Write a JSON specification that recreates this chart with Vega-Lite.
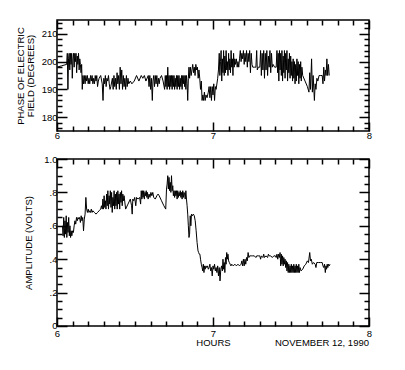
{
  "$schema": "https://vega.github.io/schema/vega-lite/v6.json",
  "background": "white",
  "padding": {"left": 14, "top": 17, "right": 5, "bottom": 5},
  "config": {
    "view": {"stroke": "black", "strokeWidth": 1.5},
    "font": "Liberation Sans",
    "axis": {"domain": false, "grid": false, "labelFont": "Liberation Sans", "labelFontSize": 9.5, "labelColor": "black", "titleFont": "Liberation Sans", "titleFontSize": 9.5, "titleFontWeight": "normal", "titleColor": "black", "tickColor": "black", "tickWidth": 1.5, "labelOverlap": false, "labelFlush": false},
    "concat": {"spacing": 8},
    "line": {"color": "black", "strokeWidth": 1},
    "title": {"font": "Liberation Sans", "fontSize": 9.5, "fontWeight": "normal", "color": "black"}
  },
  "datasets": {
    "phase": [
      {"h":6.000,"v":198},{"h":6.030,"v":198.5},{"h":6.062,"v":199},
      {"h":6.066,"v":203},{"h":6.070,"v":190},{"h":6.074,"v":201},{"h":6.078,"v":203},{"h":6.082,"v":197},{"h":6.086,"v":203},{"h":6.090,"v":199},{"h":6.094,"v":203},{"h":6.098,"v":194},{"h":6.102,"v":201},{"h":6.106,"v":203},{"h":6.110,"v":198},{"h":6.114,"v":203},{"h":6.118,"v":200},{"h":6.122,"v":203},{"h":6.126,"v":196},{"h":6.130,"v":202},{"h":6.134,"v":199},{"h":6.138,"v":203},{"h":6.142,"v":197},{"h":6.146,"v":201},{"h":6.150,"v":199},{"h":6.154,"v":196},{"h":6.158,"v":199},{"h":6.162,"v":190},{"h":6.166,"v":195},
      {"h":6.170,"v":192},{"h":6.175,"v":195},{"h":6.180,"v":192},{"h":6.185,"v":195},{"h":6.190,"v":193},{"h":6.195,"v":195},{"h":6.200,"v":192},{"h":6.205,"v":194},{"h":6.210,"v":192},{"h":6.215,"v":195},{"h":6.220,"v":193},{"h":6.225,"v":195},{"h":6.230,"v":192},{"h":6.235,"v":194},{"h":6.240,"v":192},{"h":6.245,"v":195},{"h":6.250,"v":193},{"h":6.255,"v":195},{"h":6.260,"v":191},{"h":6.265,"v":193},{"h":6.270,"v":194},
      {"h":6.280,"v":195},{"h":6.290,"v":192},{"h":6.295,"v":186},{"h":6.300,"v":194},{"h":6.305,"v":192},{"h":6.310,"v":195},{"h":6.315,"v":191},{"h":6.320,"v":194},{"h":6.325,"v":193},{"h":6.330,"v":195},{"h":6.335,"v":192},{"h":6.340,"v":190},{"h":6.345,"v":191},
      {"h":6.355,"v":194},{"h":6.360,"v":190},{"h":6.365,"v":195},{"h":6.370,"v":191},{"h":6.375,"v":194},{"h":6.380,"v":190},{"h":6.385,"v":196},{"h":6.390,"v":192},{"h":6.395,"v":195},{"h":6.400,"v":190},{"h":6.405,"v":198},{"h":6.410,"v":192},{"h":6.415,"v":197},{"h":6.420,"v":190},{"h":6.425,"v":195},{"h":6.430,"v":191},{"h":6.435,"v":194},{"h":6.440,"v":190},{"h":6.445,"v":195},{"h":6.450,"v":191},{"h":6.455,"v":194},{"h":6.460,"v":192},{"h":6.470,"v":193},{"h":6.480,"v":192},
      {"h":6.495,"v":193},{"h":6.510,"v":195},{"h":6.525,"v":193},{"h":6.540,"v":195},{"h":6.550,"v":194},{"h":6.560,"v":195},{"h":6.570,"v":193},
      {"h":6.585,"v":195},{"h":6.590,"v":191},{"h":6.595,"v":195},{"h":6.600,"v":190},{"h":6.605,"v":194},{"h":6.611,"v":186},{"h":6.615,"v":193},{"h":6.620,"v":195},{"h":6.625,"v":191},{"h":6.630,"v":195},{"h":6.635,"v":192},{"h":6.640,"v":195},{"h":6.645,"v":191},{"h":6.650,"v":194},{"h":6.655,"v":192},{"h":6.660,"v":194},{"h":6.670,"v":195},{"h":6.680,"v":193},
      {"h":6.690,"v":190},{"h":6.694,"v":195},{"h":6.698,"v":191},{"h":6.702,"v":195},{"h":6.706,"v":190},{"h":6.710,"v":198},{"h":6.714,"v":191},{"h":6.718,"v":195},{"h":6.722,"v":190},{"h":6.726,"v":195},{"h":6.730,"v":191},{"h":6.734,"v":195},{"h":6.738,"v":190},{"h":6.742,"v":195},{"h":6.746,"v":191},{"h":6.750,"v":195},{"h":6.754,"v":190},{"h":6.758,"v":194},{"h":6.762,"v":191},{"h":6.766,"v":195},{"h":6.770,"v":190},{"h":6.774,"v":195},{"h":6.778,"v":191},{"h":6.782,"v":195},{"h":6.786,"v":190},{"h":6.790,"v":194},{"h":6.794,"v":191},{"h":6.798,"v":195},{"h":6.802,"v":190},{"h":6.806,"v":195},{"h":6.810,"v":192},{"h":6.814,"v":195},{"h":6.818,"v":191},{"h":6.822,"v":195},{"h":6.826,"v":190},{"h":6.830,"v":195},{"h":6.834,"v":192},{"h":6.838,"v":186},{"h":6.842,"v":194},
      {"h":6.846,"v":198},{"h":6.850,"v":194},{"h":6.855,"v":198},{"h":6.860,"v":195},{"h":6.865,"v":197},{"h":6.870,"v":199},{"h":6.875,"v":196},{"h":6.880,"v":198},{"h":6.885,"v":195},{"h":6.890,"v":199},{"h":6.895,"v":197},{"h":6.900,"v":198},{"h":6.905,"v":194},{"h":6.910,"v":197},
      {"h":6.915,"v":194},{"h":6.920,"v":190},{"h":6.925,"v":193},{"h":6.930,"v":186},{"h":6.935,"v":188},{"h":6.940,"v":186},{"h":6.945,"v":189},{"h":6.950,"v":186},{"h":6.955,"v":188},{"h":6.962,"v":187},{"h":6.970,"v":189},{"h":6.975,"v":191},{"h":6.980,"v":187},{"h":6.985,"v":191},{"h":6.990,"v":186},{"h":6.995,"v":191},{"h":7.000,"v":188},{"h":7.005,"v":192},{"h":7.010,"v":186},{"h":7.015,"v":191},{"h":7.020,"v":190},{"h":7.030,"v":194},
      {"h":7.035,"v":197},{"h":7.040,"v":203},{"h":7.044,"v":195},{"h":7.048,"v":200},{"h":7.052,"v":204},{"h":7.056,"v":193},{"h":7.060,"v":201},{"h":7.064,"v":196},{"h":7.068,"v":204},{"h":7.072,"v":195},{"h":7.076,"v":202},{"h":7.080,"v":196},{"h":7.084,"v":204},{"h":7.088,"v":197},{"h":7.092,"v":200},{"h":7.096,"v":195},{"h":7.100,"v":203},{"h":7.104,"v":197},{"h":7.108,"v":201},{"h":7.112,"v":196},{"h":7.116,"v":204},{"h":7.120,"v":198},{"h":7.124,"v":201},{"h":7.128,"v":195},{"h":7.132,"v":203},{"h":7.136,"v":198},{"h":7.140,"v":201},{"h":7.144,"v":199},{"h":7.150,"v":201},{"h":7.155,"v":198},{"h":7.160,"v":200},{"h":7.165,"v":198},
      {"h":7.170,"v":201},{"h":7.175,"v":204},{"h":7.180,"v":200},{"h":7.185,"v":203},{"h":7.190,"v":201},{"h":7.195,"v":204},{"h":7.200,"v":199},{"h":7.205,"v":203},{"h":7.210,"v":200},{"h":7.215,"v":204},{"h":7.220,"v":198},{"h":7.225,"v":203},{"h":7.230,"v":200},{"h":7.235,"v":204},{"h":7.240,"v":196},{"h":7.245,"v":203},{"h":7.250,"v":199},
      {"h":7.255,"v":198},{"h":7.265,"v":198},{"h":7.275,"v":198},{"h":7.280,"v":204},{"h":7.284,"v":197},{"h":7.290,"v":198},{"h":7.300,"v":198},{"h":7.305,"v":204},{"h":7.310,"v":195},{"h":7.315,"v":203},{"h":7.320,"v":197},{"h":7.325,"v":204},{"h":7.330,"v":194},{"h":7.335,"v":203},{"h":7.340,"v":197},{"h":7.345,"v":204},{"h":7.350,"v":195},{"h":7.355,"v":202},{"h":7.360,"v":198},{"h":7.365,"v":204},{"h":7.370,"v":196},{"h":7.375,"v":203},{"h":7.380,"v":198},{"h":7.385,"v":199},
      {"h":7.395,"v":198},{"h":7.405,"v":198},{"h":7.410,"v":204},{"h":7.414,"v":196},{"h":7.418,"v":203},{"h":7.422,"v":193},{"h":7.426,"v":204},{"h":7.430,"v":197},{"h":7.434,"v":203},{"h":7.438,"v":195},{"h":7.442,"v":204},{"h":7.446,"v":193},{"h":7.450,"v":202},{"h":7.454,"v":196},{"h":7.458,"v":204},{"h":7.462,"v":194},{"h":7.466,"v":203},{"h":7.470,"v":197},{"h":7.474,"v":204},{"h":7.478,"v":193},{"h":7.482,"v":201},{"h":7.486,"v":196},{"h":7.490,"v":203},{"h":7.494,"v":194},{"h":7.498,"v":202},{"h":7.502,"v":195},
      {"h":7.506,"v":200},{"h":7.510,"v":193},{"h":7.514,"v":201},{"h":7.518,"v":194},{"h":7.522,"v":200},{"h":7.526,"v":192},{"h":7.530,"v":199},{"h":7.534,"v":193},{"h":7.538,"v":201},{"h":7.542,"v":195},{"h":7.546,"v":200},{"h":7.550,"v":192},{"h":7.554,"v":199},{"h":7.558,"v":194},{"h":7.562,"v":200},{"h":7.566,"v":193},{"h":7.570,"v":198},{"h":7.575,"v":195},{"h":7.590,"v":193},{"h":7.605,"v":191},{"h":7.615,"v":189},{"h":7.620,"v":196},{"h":7.625,"v":190},{"h":7.632,"v":201},{"h":7.637,"v":189},{"h":7.642,"v":195},{"h":7.650,"v":186},{"h":7.655,"v":192},{"h":7.660,"v":190},{"h":7.666,"v":194},{"h":7.672,"v":193},{"h":7.680,"v":195},{"h":7.690,"v":195},{"h":7.700,"v":195},{"h":7.705,"v":192},{"h":7.710,"v":198},{"h":7.715,"v":193},{"h":7.720,"v":197},{"h":7.725,"v":195},{"h":7.730,"v":201},{"h":7.735,"v":195},{"h":7.740,"v":199},{"h":7.745,"v":195}
    ],
    "amp": [
      {"h":6.035,"v":0.60},{"h":6.039,"v":0.54},{"h":6.043,"v":0.65},{"h":6.047,"v":0.53},{"h":6.051,"v":0.63},{"h":6.055,"v":0.55},{"h":6.059,"v":0.66},{"h":6.063,"v":0.53},{"h":6.067,"v":0.62},{"h":6.071,"v":0.56},{"h":6.075,"v":0.65},{"h":6.079,"v":0.54},{"h":6.083,"v":0.60},{"h":6.087,"v":0.53},{"h":6.091,"v":0.57},{"h":6.095,"v":0.54},{"h":6.100,"v":0.57},{"h":6.105,"v":0.56},{"h":6.110,"v":0.60},{"h":6.115,"v":0.63},{"h":6.120,"v":0.61},{"h":6.125,"v":0.65},{"h":6.130,"v":0.63},{"h":6.135,"v":0.65},{"h":6.140,"v":0.64},{"h":6.145,"v":0.65},{"h":6.150,"v":0.62},{"h":6.155,"v":0.66},{"h":6.160,"v":0.63},{"h":6.165,"v":0.65},{"h":6.170,"v":0.57},{"h":6.175,"v":0.64},{"h":6.180,"v":0.67},{"h":6.185,"v":0.77},{"h":6.190,"v":0.70},{"h":6.195,"v":0.68},{"h":6.200,"v":0.70},{"h":6.205,"v":0.68},{"h":6.210,"v":0.69},{"h":6.215,"v":0.68},{"h":6.220,"v":0.70},{"h":6.225,"v":0.68},{"h":6.230,"v":0.69},{"h":6.240,"v":0.68},{"h":6.250,"v":0.67},{"h":6.260,"v":0.68},{"h":6.270,"v":0.69},{"h":6.280,"v":0.70},{"h":6.285,"v":0.72},{"h":6.290,"v":0.70},{"h":6.294,"v":0.76},{"h":6.298,"v":0.70},{"h":6.302,"v":0.78},{"h":6.306,"v":0.71},{"h":6.310,"v":0.75},{"h":6.314,"v":0.70},{"h":6.318,"v":0.79},{"h":6.322,"v":0.72},{"h":6.326,"v":0.81},{"h":6.330,"v":0.70},{"h":6.334,"v":0.78},{"h":6.338,"v":0.73},{"h":6.342,"v":0.81},{"h":6.346,"v":0.71},{"h":6.350,"v":0.80},{"h":6.354,"v":0.68},{"h":6.358,"v":0.77},{"h":6.362,"v":0.72},{"h":6.366,"v":0.81},{"h":6.370,"v":0.70},{"h":6.374,"v":0.79},{"h":6.378,"v":0.72},{"h":6.382,"v":0.80},{"h":6.386,"v":0.70},{"h":6.390,"v":0.81},{"h":6.394,"v":0.73},{"h":6.398,"v":0.79},{"h":6.402,"v":0.70},{"h":6.406,"v":0.80},{"h":6.410,"v":0.74},{"h":6.414,"v":0.81},{"h":6.418,"v":0.72},{"h":6.422,"v":0.79},{"h":6.426,"v":0.75},{"h":6.430,"v":0.78},{"h":6.440,"v":0.70},{"h":6.455,"v":0.73},{"h":6.470,"v":0.76},
      {"h":6.478,"v":0.72},{"h":6.482,"v":0.67},{"h":6.486,"v":0.76},{"h":6.492,"v":0.75},{"h":6.498,"v":0.77},{"h":6.505,"v":0.72},{"h":6.510,"v":0.77},{"h":6.520,"v":0.76},{"h":6.530,"v":0.77},{"h":6.536,"v":0.73},{"h":6.540,"v":0.81},{"h":6.544,"v":0.76},{"h":6.548,"v":0.81},{"h":6.552,"v":0.77},{"h":6.556,"v":0.81},{"h":6.560,"v":0.76},{"h":6.564,"v":0.80},{"h":6.568,"v":0.78},{"h":6.572,"v":0.81},{"h":6.576,"v":0.77},{"h":6.580,"v":0.80},{"h":6.584,"v":0.76},{"h":6.590,"v":0.79},{"h":6.596,"v":0.77},{"h":6.602,"v":0.80},{"h":6.608,"v":0.78},{"h":6.614,"v":0.80},{"h":6.620,"v":0.77},{"h":6.630,"v":0.76},{"h":6.640,"v":0.78},{"h":6.648,"v":0.79},{"h":6.655,"v":0.78},{"h":6.670,"v":0.75},{"h":6.685,"v":0.72},{"h":6.697,"v":0.70},
      {"h":6.702,"v":0.82},{"h":6.706,"v":0.85},{"h":6.710,"v":0.90},{"h":6.714,"v":0.82},{"h":6.718,"v":0.89},{"h":6.722,"v":0.81},{"h":6.726,"v":0.86},{"h":6.730,"v":0.80},{"h":6.734,"v":0.90},{"h":6.738,"v":0.81},{"h":6.742,"v":0.84},{"h":6.746,"v":0.78},{"h":6.750,"v":0.81},{"h":6.754,"v":0.77},{"h":6.758,"v":0.81},{"h":6.762,"v":0.78},{"h":6.766,"v":0.81},{"h":6.770,"v":0.76},{"h":6.774,"v":0.81},{"h":6.778,"v":0.77},{"h":6.782,"v":0.80},{"h":6.786,"v":0.78},{"h":6.790,"v":0.81},{"h":6.794,"v":0.77},{"h":6.798,"v":0.80},{"h":6.802,"v":0.76},{"h":6.806,"v":0.81},{"h":6.810,"v":0.77},{"h":6.814,"v":0.80},{"h":6.818,"v":0.79},{"h":6.822,"v":0.76},{"h":6.826,"v":0.81},{"h":6.830,"v":0.76},{"h":6.834,"v":0.72},{"h":6.838,"v":0.67},{"h":6.842,"v":0.60},{"h":6.846,"v":0.53},{"h":6.850,"v":0.55},{"h":6.854,"v":0.66},{"h":6.858,"v":0.60},{"h":6.862,"v":0.67},{"h":6.868,"v":0.66},{"h":6.874,"v":0.67},{"h":6.880,"v":0.66},{"h":6.886,"v":0.63},{"h":6.892,"v":0.57},{"h":6.898,"v":0.50},{"h":6.904,"v":0.45},{"h":6.908,"v":0.44},{"h":6.912,"v":0.43},{"h":6.916,"v":0.43},{"h":6.920,"v":0.40},{"h":6.925,"v":0.37},{"h":6.930,"v":0.35},{"h":6.934,"v":0.33},{"h":6.938,"v":0.37},{"h":6.942,"v":0.32},{"h":6.946,"v":0.36},{"h":6.950,"v":0.34},{"h":6.955,"v":0.36},{"h":6.960,"v":0.35},{"h":6.965,"v":0.36},{"h":6.970,"v":0.34},{"h":6.975,"v":0.35},{"h":6.980,"v":0.37},{"h":6.985,"v":0.33},{"h":6.990,"v":0.35},{"h":6.995,"v":0.30},{"h":7.000,"v":0.36},{"h":7.005,"v":0.34},{"h":7.010,"v":0.37},{"h":7.015,"v":0.33},{"h":7.020,"v":0.35},{"h":7.025,"v":0.32},{"h":7.030,"v":0.36},{"h":7.035,"v":0.30},{"h":7.040,"v":0.35},{"h":7.045,"v":0.27},{"h":7.050,"v":0.34},{"h":7.055,"v":0.36},{"h":7.060,"v":0.33},{"h":7.064,"v":0.40},{"h":7.068,"v":0.34},{"h":7.072,"v":0.38},{"h":7.076,"v":0.32},{"h":7.080,"v":0.41},{"h":7.084,"v":0.37},{"h":7.088,"v":0.44},{"h":7.092,"v":0.40},{"h":7.096,"v":0.43},{"h":7.100,"v":0.39},{"h":7.105,"v":0.38},{"h":7.110,"v":0.37},{"h":7.115,"v":0.36},{"h":7.120,"v":0.37},{"h":7.130,"v":0.36},{"h":7.140,"v":0.37},{"h":7.150,"v":0.36},{"h":7.160,"v":0.37},{"h":7.170,"v":0.36},{"h":7.180,"v":0.37},{"h":7.185,"v":0.39},{"h":7.190,"v":0.36},{"h":7.195,"v":0.40},{"h":7.200,"v":0.36},{"h":7.205,"v":0.40},{"h":7.210,"v":0.37},{"h":7.215,"v":0.41},{"h":7.220,"v":0.39},{"h":7.225,"v":0.44},{"h":7.230,"v":0.41},{"h":7.235,"v":0.42},{"h":7.245,"v":0.42},{"h":7.255,"v":0.42},{"h":7.265,"v":0.42},{"h":7.275,"v":0.41},{"h":7.280,"v":0.42},{"h":7.290,"v":0.42},{"h":7.300,"v":0.42},{"h":7.305,"v":0.40},{"h":7.310,"v":0.42},{"h":7.320,"v":0.41},{"h":7.325,"v":0.43},{"h":7.330,"v":0.41},{"h":7.340,"v":0.42},{"h":7.350,"v":0.41},{"h":7.355,"v":0.43},{"h":7.360,"v":0.42},{"h":7.370,"v":0.42},{"h":7.380,"v":0.41},{"h":7.390,"v":0.42},{"h":7.400,"v":0.42},{"h":7.405,"v":0.41},{"h":7.410,"v":0.43},{"h":7.415,"v":0.40},{"h":7.420,"v":0.43},{"h":7.425,"v":0.41},{"h":7.430,"v":0.44},{"h":7.434,"v":0.36},{"h":7.438,"v":0.43},{"h":7.442,"v":0.37},{"h":7.446,"v":0.42},{"h":7.450,"v":0.36},{"h":7.454,"v":0.41},{"h":7.458,"v":0.37},{"h":7.462,"v":0.40},{"h":7.466,"v":0.35},{"h":7.470,"v":0.39},{"h":7.474,"v":0.33},{"h":7.478,"v":0.38},{"h":7.482,"v":0.32},{"h":7.486,"v":0.37},{"h":7.490,"v":0.32},{"h":7.494,"v":0.36},{"h":7.498,"v":0.32},{"h":7.502,"v":0.37},{"h":7.506,"v":0.32},{"h":7.510,"v":0.36},{"h":7.514,"v":0.32},{"h":7.518,"v":0.37},{"h":7.522,"v":0.32},{"h":7.526,"v":0.36},{"h":7.530,"v":0.32},{"h":7.534,"v":0.37},{"h":7.538,"v":0.32},{"h":7.542,"v":0.36},{"h":7.546,"v":0.32},{"h":7.550,"v":0.37},{"h":7.554,"v":0.32},{"h":7.558,"v":0.35},{"h":7.565,"v":0.33},{"h":7.575,"v":0.34},{"h":7.585,"v":0.36},{"h":7.595,"v":0.37},{"h":7.605,"v":0.39},{"h":7.612,"v":0.38},{"h":7.620,"v":0.44},{"h":7.625,"v":0.39},{"h":7.630,"v":0.40},{"h":7.637,"v":0.37},{"h":7.645,"v":0.38},{"h":7.655,"v":0.37},{"h":7.660,"v":0.35},{"h":7.665,"v":0.38},{"h":7.675,"v":0.38},{"h":7.690,"v":0.38},{"h":7.700,"v":0.38},{"h":7.705,"v":0.36},{"h":7.710,"v":0.35},{"h":7.715,"v":0.37},{"h":7.720,"v":0.32},{"h":7.724,"v":0.36},{"h":7.728,"v":0.34},{"h":7.732,"v":0.37},{"h":7.736,"v":0.35},{"h":7.740,"v":0.37},{"h":7.745,"v":0.36},{"h":7.750,"v":0.37}
    ]
  },
  "vconcat": [
    {
      "width": 312, "height": 111,
      "data": {"name": "phase"},
      "layer": [
        {
          "mark": {"type": "line", "clip": true},
          "encoding": {
            "x": {"field": "h", "type": "quantitative", "scale": {"domain": [6, 8], "nice": false, "zero": false},
              "axis": {"orient": "bottom", "title": null, "values": [6,6.1,6.2,6.3,6.4,6.5,6.6,6.7,6.8,6.9,7,7.1,7.2,7.3,7.4,7.5,7.6,7.7,7.8,7.9,8],
                "tickSize": {"condition": {"test": "datum.value % 1 === 0", "value": -9}, "value": -5},
                "labelExpr": "datum.value % 1 === 0 ? format(datum.value, 'd') : ''", "labelPadding": 8}},
            "y": {"field": "v", "type": "quantitative", "scale": {"domain": [175, 215], "nice": false, "zero": false},
              "axis": {"orient": "left", "title": ["PHASE OF ELECTRIC", "FIELD (DEGREES)"], "titleLineHeight": 10, "titlePadding": 6,
                "values": [176,178,180,182,184,186,188,190,192,194,196,198,200,202,204,206,208,210,212,214],
                "tickSize": {"condition": {"test": "datum.value % 10 === 0", "value": -10}, "value": -5},
                "labelExpr": "datum.value % 10 === 0 ? format(datum.value, 'd') : ''", "labelPadding": 10}}
          }
        },
        {
          "mark": {"type": "line", "opacity": 0},
          "encoding": {
            "x": {"field": "h", "type": "quantitative",
              "axis": {"orient": "top", "title": null, "labels": false, "values": [6,6.1,6.2,6.3,6.4,6.5,6.6,6.7,6.8,6.9,7,7.1,7.2,7.3,7.4,7.5,7.6,7.7,7.8,7.9,8],
                "tickSize": {"condition": {"test": "datum.value % 1 === 0", "value": -9}, "value": -5}}},
            "y": {"field": "v", "type": "quantitative",
              "axis": {"orient": "right", "title": null, "labels": false,
                "values": [176,178,180,182,184,186,188,190,192,194,196,198,200,202,204,206,208,210,212,214],
                "tickSize": {"condition": {"test": "datum.value % 10 === 0", "value": -10}, "value": -5}}}
          }
        }
      ],
      "resolve": {"axis": {"x": "independent", "y": "independent"}}
    },
    {
      "width": 312, "height": 167,
      "data": {"name": "amp"},
      "title": {"text": "NOVEMBER 12, 1990", "orient": "bottom", "anchor": "end", "frame": "group", "offset": -9},
      "layer": [
        {
          "mark": {"type": "line", "clip": true},
          "encoding": {
            "x": {"field": "h", "type": "quantitative", "scale": {"domain": [6, 8], "nice": false, "zero": false},
              "axis": {"orient": "bottom", "title": "HOURS", "titlePadding": -4, "values": [6,6.1,6.2,6.3,6.4,6.5,6.6,6.7,6.8,6.9,7,7.1,7.2,7.3,7.4,7.5,7.6,7.7,7.8,7.9,8],
                "tickSize": {"condition": {"test": "datum.value % 1 === 0", "value": -9}, "value": -5},
                "labelExpr": "datum.value % 1 === 0 ? format(datum.value, 'd') : ''", "labelPadding": 11}},
            "y": {"field": "v", "type": "quantitative", "scale": {"domain": [0, 1], "nice": false, "zero": false},
              "axis": {"orient": "left", "title": "AMPLITUDE (VOLTS)", "titlePadding": 10,
                "values": [0,0.05,0.1,0.15,0.2,0.25,0.3,0.35,0.4,0.45,0.5,0.55,0.6,0.65,0.7,0.75,0.8,0.85,0.9,0.95,1],
                "tickSize": {"condition": {"test": "abs(datum.value*5 - round(datum.value*5)) < 0.001", "value": -10}, "value": -5},
                "labelOffset": {"condition": {"test": "datum.value < 0.001", "value": -1}, "value": 0},
                "labelExpr": "abs(datum.value*5 - round(datum.value*5)) < 0.001 ? (datum.value < 0.001 ? '0' : datum.value > 0.999 ? '1.0' : replace(format(datum.value, '.1f'), '0.', '.')) : ''", "labelPadding": 10}}
          }
        },
        {
          "mark": {"type": "line", "opacity": 0},
          "encoding": {
            "x": {"field": "h", "type": "quantitative",
              "axis": {"orient": "top", "title": null, "labels": false, "values": [6,6.1,6.2,6.3,6.4,6.5,6.6,6.7,6.8,6.9,7,7.1,7.2,7.3,7.4,7.5,7.6,7.7,7.8,7.9,8],
                "tickSize": {"condition": {"test": "datum.value % 1 === 0", "value": -9}, "value": -5}}},
            "y": {"field": "v", "type": "quantitative",
              "axis": {"orient": "right", "title": null, "labels": false,
                "values": [0,0.05,0.1,0.15,0.2,0.25,0.3,0.35,0.4,0.45,0.5,0.55,0.6,0.65,0.7,0.75,0.8,0.85,0.9,0.95,1],
                "tickSize": {"condition": {"test": "abs(datum.value*5 - round(datum.value*5)) < 0.001", "value": -10}, "value": -5}}}
          }
        }
      ],
      "resolve": {"axis": {"x": "independent", "y": "independent"}}
    }
  ]
}
